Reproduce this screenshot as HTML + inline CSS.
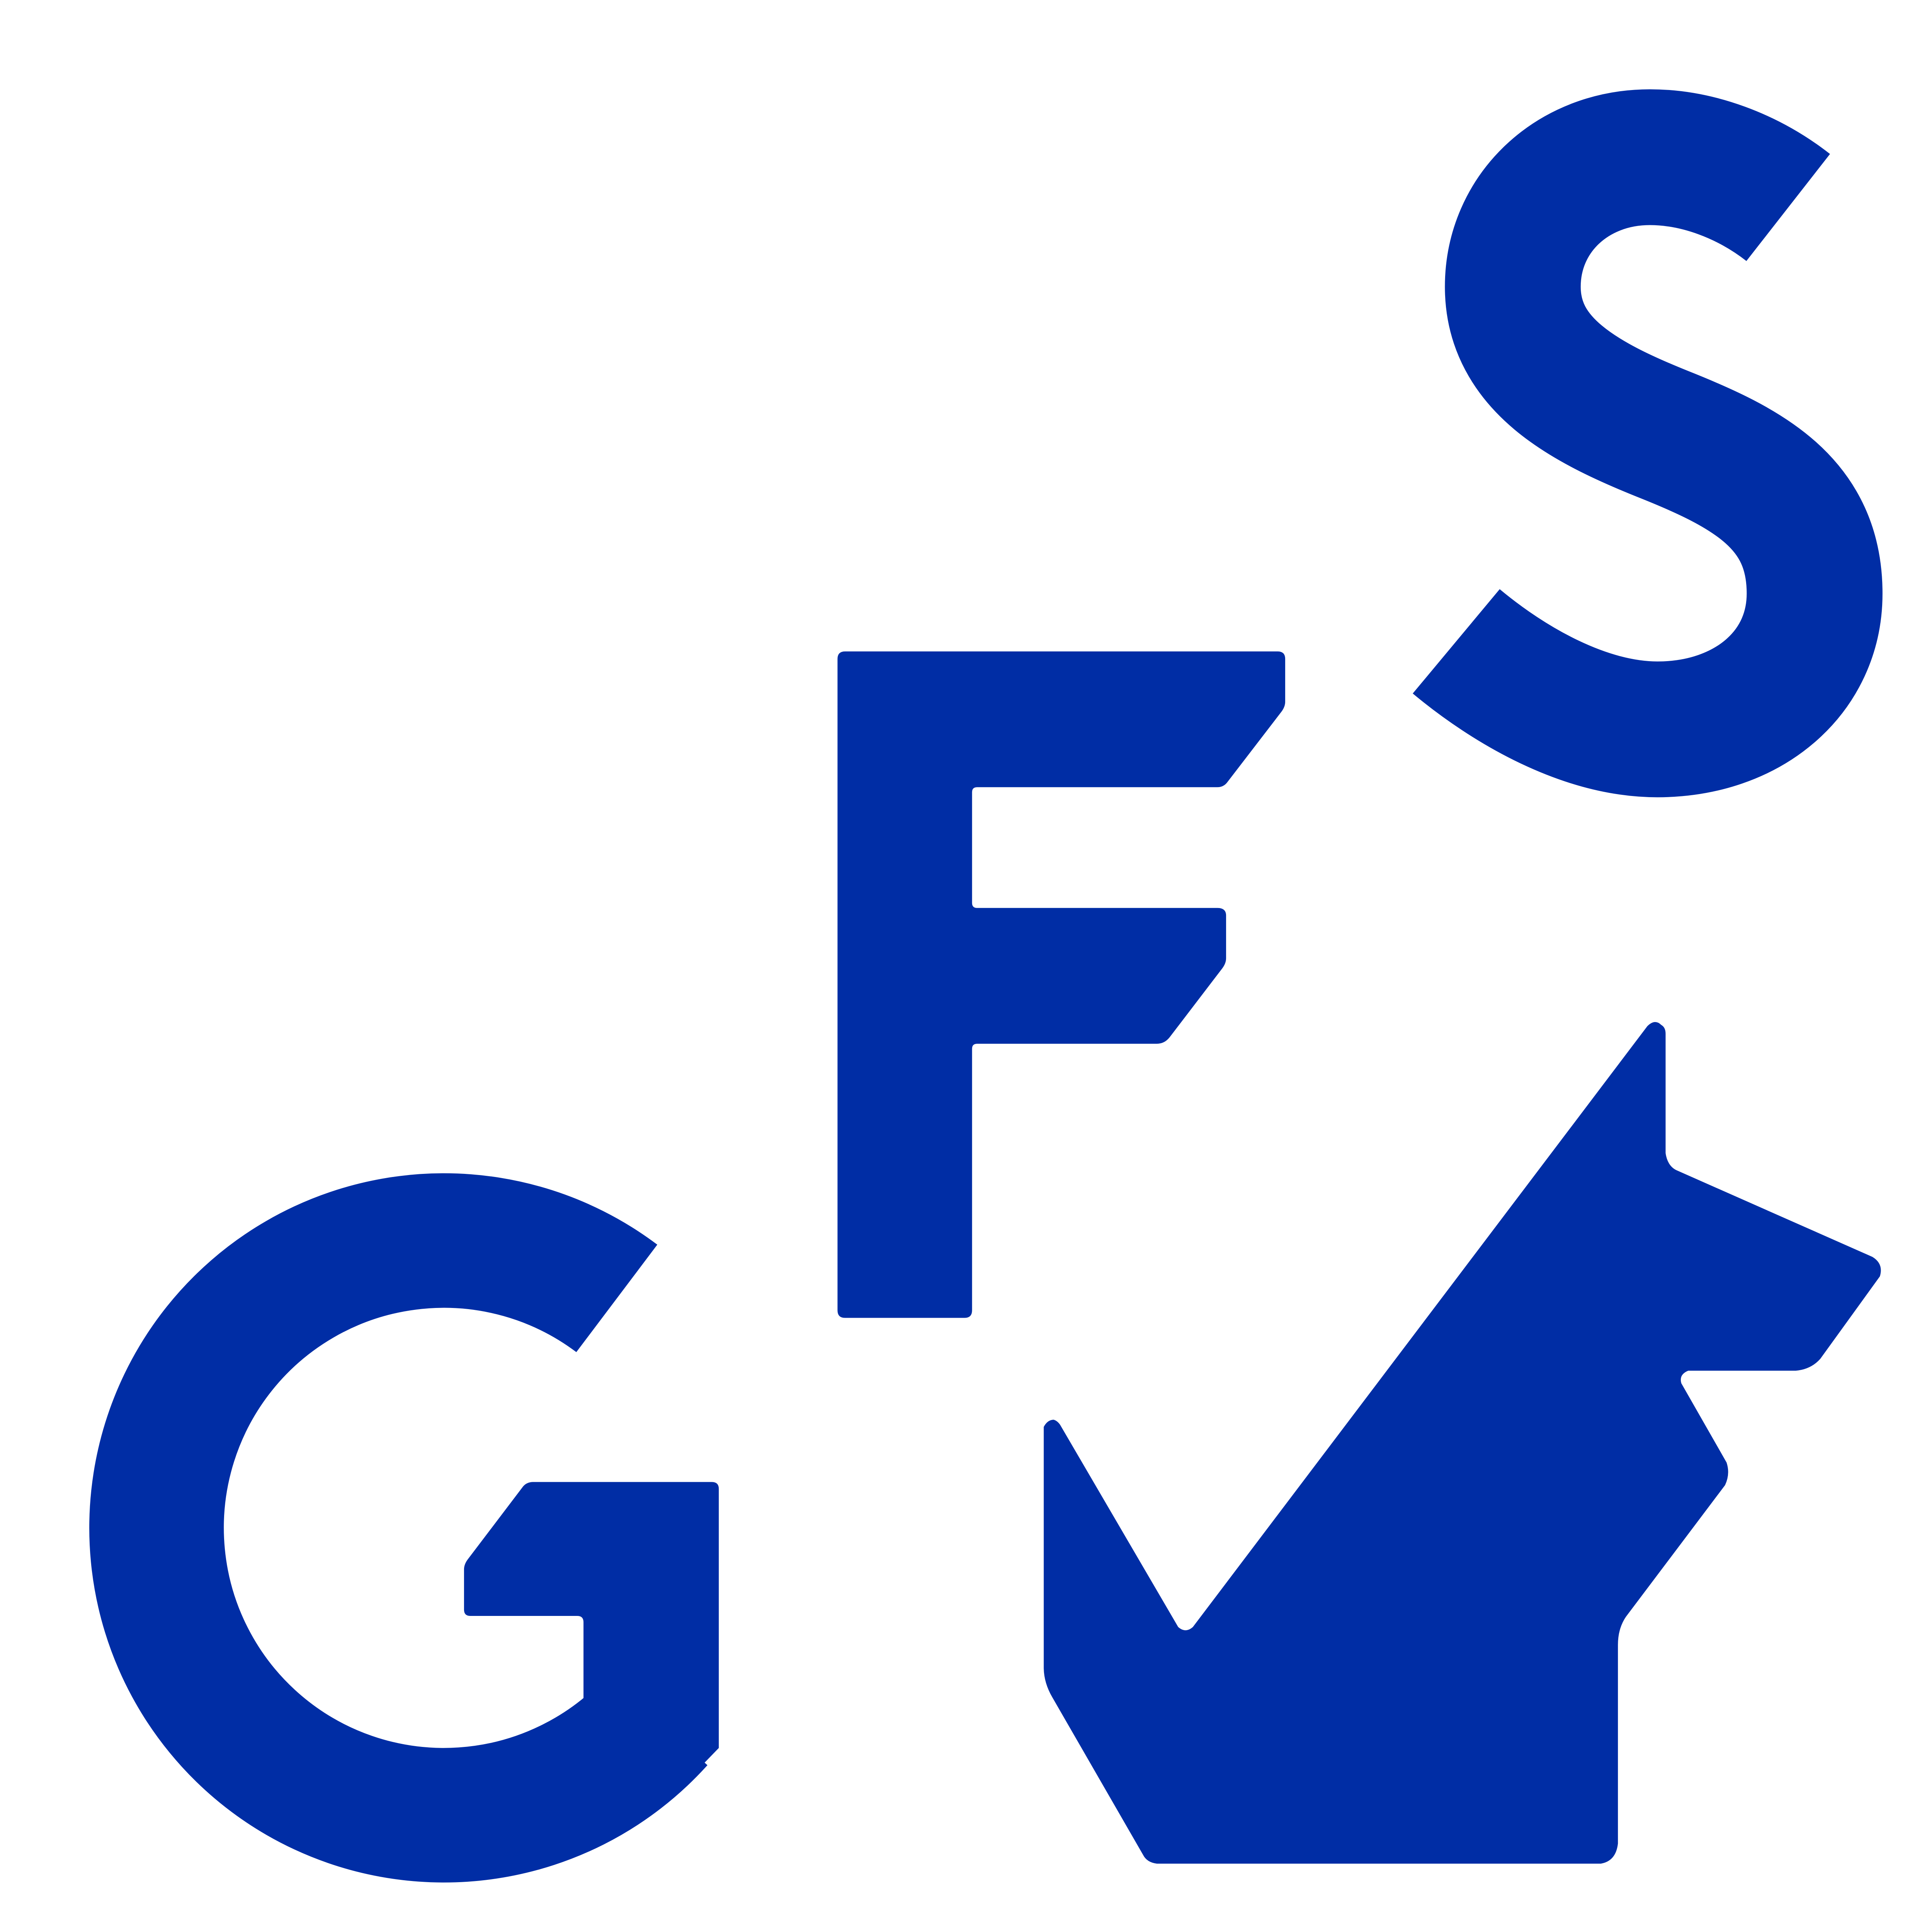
<!DOCTYPE html>
<html>
<head>
<meta charset="utf-8">
<style>
html,body{margin:0;padding:0;background:#fff;overflow:hidden;width:5103px;height:5103px;}
svg{display:block;position:absolute;left:0;top:0;}
</style>
</head>
<body>
<svg width="5103" height="5103" viewBox="0 0 1568 1568" xmlns="http://www.w3.org/2000/svg">
  <rect width="1568" height="1568" fill="#ffffff"/>
  <g fill="#002DA5">
    <path d="M672,518 L1016,518 Q1022,518 1022,524 L1022,558 Q1022,562 1019,566 L976,622 Q973,626 968,626 L777,626 Q773,626 773,630 L773,718 Q773,722 777,722 L968,722 Q975,722 975,728 L975,762 Q975,766 972,770 L930,825 Q926,830 920,830 L777,830 Q773,830 773,834 L773,1042 Q773,1048 767,1048 L672,1048 Q666,1048 666,1042 L666,524 Q666,518 672,518 Z"/>
    <path d="M424,1178.5 L566,1178.5 Q571.6,1178.5 571.6,1184 L571.6,1390 L560,1402 L464,1402 L464,1290 Q464,1285 459,1285 L374,1285 Q369,1285 369,1280 L369,1248 Q369,1244 372,1240 L416,1182 Q419,1178.5 424,1178.5 Z"/>
    <path d="M1310,816 Q1316,810 1321,815 Q1324.5,817 1324.5,822 L1324.5,917 Q1326,927 1333,930.5 L1489,999.5 Q1498,1005 1494.9,1015 L1447.5,1080.6 Q1440,1089 1428,1090 L1342.5,1090 Q1335,1093 1337,1100 L1373,1163 Q1376,1172 1371.8,1181 L1293,1285.6 Q1286.6,1295 1286.6,1308 L1286.6,1466 Q1285,1480 1273,1482 L920,1482 Q912,1481 909,1475 L836.8,1349.7 Q830,1338 830,1326 L830,1134.7 Q833,1129 838,1129 Q841,1130 843,1133 L936.9,1293.8 Q942.7,1299 948.6,1293.8 Z"/>
  </g>
  <path d="M490.5,1032.5 A228.5,228.5 0 1 0 522.8,1367.9" fill="none" stroke="#002DA5" stroke-width="107"/>
  <path d="M1422,165 C1390,140 1350,125 1312,125 C1250,125 1203,170 1203,228 C1203,290 1260,320 1322,345 C1390,372 1443,400 1443,472 C1443,535 1390,580 1318,580 C1260,580 1200,545 1158,510" fill="none" stroke="#002DA5" stroke-width="108"/>
</svg>
</body>
</html>
